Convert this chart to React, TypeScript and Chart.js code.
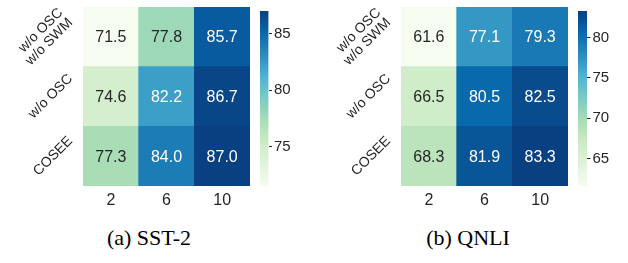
import React, { useEffect, useRef } from "react";
import { Chart, registerables } from "chart.js";

Chart.register(...registerables);

// ---- data ----
const xLabels = ["2", "6", "10"];
// rows listed top to bottom
const rowLabels: string[][] = [["w/o OSC", "w/o SWM"], ["w/o OSC"], ["COSEE"]];
const sstValues: number[][] = [
  [71.5, 77.8, 85.7],
  [74.6, 82.2, 86.7],
  [77.3, 84.0, 87.0],
];
const qnliValues: number[][] = [
  [61.6, 77.1, 79.3],
  [66.5, 80.5, 82.5],
  [68.3, 81.9, 83.3],
];
const sstTicks = [75, 80, 85];
const qnliTicks = [65, 70, 75, 80];
const captions = ["(a) SST-2", "(b) QNLI"];

// ---- style ----
const SANS = "'Liberation Sans', Arial, Helvetica, sans-serif";
const SERIF = "'Liberation Serif', 'Times New Roman', serif";
const TEXT = "#262626";
const GNBU = [
  "#f7fcf0", "#e0f3db", "#ccebc5", "#a8ddb5", "#7bccc4",
  "#4eb3d3", "#2b8cbe", "#0868ac", "#084081",
];

function hexToRgb(h: string): number[] {
  return [1, 3, 5].map((i) => parseInt(h.slice(i, i + 2), 16));
}
const GNBU_RGB = GNBU.map(hexToRgb);

function cmapRgb(t: number): number[] {
  const tt = Math.max(0, Math.min(1, t));
  const n = GNBU_RGB.length - 1;
  const p = tt * n;
  const i = Math.min(Math.floor(p), n - 1);
  const f = p - i;
  const a = GNBU_RGB[i];
  const b = GNBU_RGB[i + 1];
  return a.map((v, k) => v + (b[k] - v) * f);
}
function rgbStr(c: number[]) {
  return `rgb(${Math.round(c[0])},${Math.round(c[1])},${Math.round(c[2])})`;
}
function luminance(c: number[]) {
  const lin = c.map((v) => {
    const s = v / 255;
    return s <= 0.03928 ? s / 12.92 : Math.pow((s + 0.055) / 1.055, 2.4);
  });
  return 0.2126 * lin[0] + 0.7152 * lin[1] + 0.0722 * lin[2];
}

const LABEL_FONT = 14;
const LABEL_LINE = 14;

function Heatmap({ values, left }: { values: number[][]; left: number }) {
  const ref = useRef<HTMLCanvasElement>(null);
  useEffect(() => {
    const flat = values.flat();
    const vmin = Math.min(...flat);
    const vmax = Math.max(...flat);
    const nRows = values.length;
    const datasets = values
      .map((row, r) => {
        const cols = row.map((v) => cmapRgb((v - vmin) / (vmax - vmin)));
        return {
          label: rowLabels[r].join(" "),
          data: row.map(() => 1),
          values: row,
          backgroundColor: cols.map(rgbStr),
          textColors: cols.map((c) => (luminance(c) > 0.408 ? TEXT : "#ffffff")),
          borderWidth: 0,
          barPercentage: 1,
          categoryPercentage: 1,
        };
      })
      .reverse();

    const annotate = {
      id: "annotate",
      afterDatasetsDraw(chart: any) {
        const c = chart.ctx;
        c.save();
        c.font = `16px ${SANS}`;
        c.textAlign = "center";
        c.textBaseline = "middle";
        chart.data.datasets.forEach((ds: any, di: number) => {
          const meta = chart.getDatasetMeta(di);
          meta.data.forEach((el: any, i: number) => {
            const { x, y, base } = el.getProps(["x", "y", "base"], true);
            c.fillStyle = ds.textColors[i];
            c.fillText(ds.values[i].toFixed(1), x, (y + base) / 2 + 1);
          });
        });
        c.restore();
      },
    };

    const rowLabelPlugin = {
      id: "rowLabels",
      afterDraw(chart: any) {
        const c = chart.ctx;
        const ys = chart.scales.y;
        const area = chart.chartArea;
        c.save();
        c.font = `${LABEL_FONT}px ${SANS}`;
        c.fillStyle = TEXT;
        c.textAlign = "right";
        c.textBaseline = "middle";
        rowLabels.forEach((lines, r) => {
          const yc = ys.getPixelForValue(nRows - r - 0.5);
          const L = Math.max(...lines.map((s) => c.measureText(s).width));
          const H = (lines.length - 1) * LABEL_LINE + 10;
          const ax = area.left - 9 - 0.354 * H;
          const ay = yc - 0.354 * L;
          c.save();
          c.translate(ax, ay);
          c.rotate(-Math.PI / 4);
          lines.forEach((s, k) => {
            c.fillText(s, 0, (k - (lines.length - 1) / 2) * LABEL_LINE);
          });
          c.restore();
        });
        c.restore();
      },
    };

    const chart = new Chart(ref.current as HTMLCanvasElement, {
      type: "bar",
      data: { labels: xLabels, datasets: datasets as any },
      options: {
        animation: false,
        responsive: false,
        maintainAspectRatio: false,
        layout: { padding: { left: 83, top: 7, right: 5, bottom: 0 } },
        plugins: { legend: { display: false }, tooltip: { enabled: false } },
        scales: {
          x: {
            stacked: true,
            grid: { display: false, drawTicks: false },
            border: { display: false },
            ticks: { color: TEXT, font: { family: SANS, size: 16 }, padding: 5 },
            afterFit: (s: any) => {
              s.height = 29;
            },
          },
          y: { stacked: true, display: false, min: 0, max: nRows },
        },
      } as any,
      plugins: [annotate, rowLabelPlugin],
    });
    return () => chart.destroy();
  }, [values]);
  return (
    <canvas
      ref={ref}
      width={255}
      height={215}
      style={{ position: "absolute", left, top: 0, width: 255, height: 215 }}
    />
  );
}

function Colorbar({ values, ticks, left, barWidth }: { values: number[][]; ticks: number[]; left: number; barWidth: number }) {
  const ref = useRef<HTMLCanvasElement>(null);
  useEffect(() => {
    const flat = values.flat();
    const vmin = Math.min(...flat);
    const vmax = Math.max(...flat);
    const W = 44;
    const chart = new Chart(ref.current as HTMLCanvasElement, {
      type: "bar",
      data: {
        labels: [""],
        datasets: [
          {
            data: [[vmin, vmax]],
            borderWidth: 0,
            barPercentage: 1,
            categoryPercentage: 1,
            backgroundColor: (ctx: any) => {
              const area = ctx.chart.chartArea;
              if (!area) return GNBU[0];
              const g = ctx.chart.ctx.createLinearGradient(0, area.bottom, 0, area.top);
              GNBU.forEach((col, i) => g.addColorStop(i / (GNBU.length - 1), col));
              return g;
            },
          } as any,
        ],
      },
      options: {
        animation: false,
        responsive: false,
        maintainAspectRatio: false,
        layout: { padding: { left: 0, top: 7, right: 0, bottom: 29 } },
        plugins: { legend: { display: false }, tooltip: { enabled: false } },
        scales: {
          x: { display: false },
          y: {
            position: "right",
            min: vmin,
            max: vmax,
            afterBuildTicks: (s: any) => {
              s.ticks = ticks.map((v) => ({ value: v }));
            },
            grid: {
              drawOnChartArea: false,
              drawTicks: true,
              tickLength: 3.5,
              tickColor: TEXT,
              tickWidth: 1,
            },
            border: { display: false },
            ticks: { color: TEXT, font: { family: SANS, size: 15 }, padding: 2 },
            afterFit: (s: any) => {
              s.width = W - barWidth;
            },
          },
        },
      } as any,
    });
    return () => chart.destroy();
  }, [values, ticks]);
  return (
    <canvas
      ref={ref}
      width={44}
      height={215}
      style={{ position: "absolute", left, top: 0, width: 44, height: 215 }}
    />
  );
}

function Caption({ text, center }: { text: string; center: number }) {
  return (
    <div
      style={{
        position: "absolute",
        left: center - 100,
        width: 200,
        top: 227,
        textAlign: "center",
        fontFamily: SERIF,
        fontSize: 22,
        lineHeight: "22px",
        color: "#000",
        whiteSpace: "nowrap",
      }}
    >
      {text}
    </div>
  );
}

export default function App() {
  return (
    <div
      style={{
        position: "fixed",
        left: 0,
        top: 0,
        width: 628,
        height: 263,
        background: "#ffffff",
        overflow: "hidden",
      }}
    >
      <Heatmap values={sstValues} left={0} />
      <Colorbar values={sstValues} ticks={sstTicks} left={260} barWidth={8.5} />
      <Heatmap values={qnliValues} left={318} />
      <Colorbar values={qnliValues} ticks={qnliTicks} left={578} barWidth={9} />
      <Caption text={captions[0]} center={149} />
      <Caption text={captions[1]} center={468} />
    </div>
  );
}
